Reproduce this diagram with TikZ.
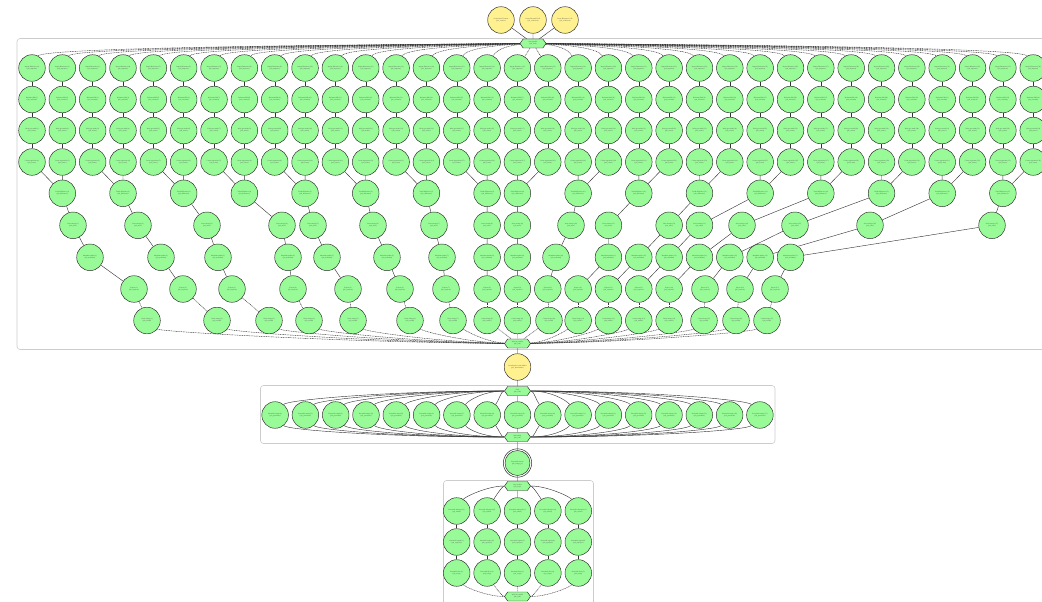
\documentclass[tikz,border=0pt]{standalone}
\usepackage{fontspec}
\setmainfont{Liberation Serif}
\usetikzlibrary{shapes.symbols}
\definecolor{pgreen}{HTML}{98FB98}
\definecolor{pyel}{HTML}{FFF18F}
\definecolor{clus}{HTML}{CCCCCC}
\definecolor{edgec}{HTML}{333333}
\pgfdeclarelayer{clusterlayer}
\pgfdeclarelayer{edgelayer}
\pgfsetlayers{clusterlayer,edgelayer,main}
\tikzset{
  job/.style={circle,draw=black!85,fill=pgreen,line width=0.45pt,minimum size=26.6pt,inner sep=0pt,
    align=center,text=black!70,font=\fontsize{1.7}{2.1}\selectfont},
  yjob/.style={job,fill=pyel},
  mjob/.style={job,minimum size=25pt},
  hexjob/.style={signal,signal to=west and east,signal pointer angle=110,draw=black!85,fill=pgreen,
    line width=0.45pt,minimum width=26pt,minimum height=9pt,inner sep=0.3pt,align=center,
    text=black!70,font=\fontsize{1.7}{2.1}\selectfont},
  cluster/.style={draw=clus,line width=0.6pt,rounded corners=3pt},
  link/.style={draw=edgec,line width=0.42pt},
  dlink/.style={link,line width=0.45pt,dash pattern=on 1pt off 0.7pt},
}
\begin{document}
\begin{tikzpicture}[x=1pt,y=1pt]
\useasboundingbox (0,0) rectangle (1042,-602);
\begin{pgfonlayer}{clusterlayer}
\begin{scope}
\clip (0,0) rectangle (1042,-602);
\draw[cluster] (17,-38.5) rectangle (1070,-349.5);
\draw[cluster] (260.5,-385.5) rectangle (775,-443.5);
\draw[cluster] (443.5,-480.5) rectangle (593.5,-640);
\end{scope}
\end{pgfonlayer}

% ---------- top ----------
\node[yjob] (y1) at (501,-20) {Create World Context\\(job\_context)};
\node[yjob] (y2) at (533,-20) {Create Bioworld Coll.\\(job\_collection)};
\node[yjob] (y3) at (565,-20) {Create Biosource Coll.\\(job\_collection)};
\node[hexjob] (s1) at (533,-43.5) {Start parallel\\(job\_fork)};
\node[hexjob] (j1) at (517.5,-343.5) {Wait for parallel\\(job\_join)};
\begin{pgfonlayer}{edgelayer}
\draw[link] (y1) -- (s1) (y2) -- (s1) (y3) -- (s1);
\end{pgfonlayer}

% ---------- rows 1-4 ----------
\foreach \i in {0,...,33}{
  \pgfmathsetmacro\cx{32+30.34*\i}
  \pgfmathtruncatemacro\n{\i+1}
  \node[job] (a\i) at (\cx,-68) {Import Biosource (\n)\\(job\_importer)};
  \node[job] (b\i) at (\cx,-99.5) {Reformat EM (\n)\\(job\_reformat)};
  \node[job] (c\i) at (\cx,-130.5) {Write geo mask (\n)\\(job\_writer)};
  \node[job] (d\i) at (\cx,-162) {Create regression (\n)\\(job\_Lasso)};
  \pgfmathsetmacro\dx{\cx-533}
  \pgfmathsetmacro\adx{abs(\dx)}
  \pgfmathsetmacro\sg{\dx<0 ? -1 : 1}
  \begin{pgfonlayer}{edgelayer}
  \draw[link] (a\i) -- (b\i) (b\i) -- (c\i) (c\i) -- (d\i);
  \ifdim\adx pt<40pt
    \draw[dlink] (s1) -- (a\i);
  \else
    \pgfmathsetmacro\cax{533+0.45*\dx}
    \pgfmathsetmacro\cbx{\cx-10*\sg}
    \draw[dlink] (s1) .. controls (\cax,-45) and (\cbx,-48) .. (a\i);
  \fi
  \end{pgfonlayer}
}

% ---------- rows 5-9 (chains) ----------
\foreach \k/\xf/\xg/\xh/\xr in {
  1/73/90/134/147, 2/138/161/183/217, 3/207/218/232/269, 4/282/288/293/309,
  5/313/327/348/353, 6/373/387/400/410, 7/434/442/446/453,
  8/487.1/487.1/487.1/487.1, 9/517.44/517.44/517.44/517.44,
  10/571/556/547.8/549, 11/608.46/608.46/578.12/578.12,
  12/669.14/638.8/608.46/608.46, 13/699.48/669.14/638.8/638.8,
  14/742/699.48/669.14/669.14, 15/795/729.82/705/704,
  16/870/760.16/740/736, 17/992/790.5/775/767}{
  \pgfmathtruncatemacro\pa{2*\k-2}
  \pgfmathtruncatemacro\pb{2*\k-1}
  \pgfmathsetmacro\xe{\k<9 ? 32+30.34*\pb : 32+30.34*\pa}
  \node[job] (e\k) at (\xe,-193.3) {Trend difference (\k)\\(job\_difference)};
  \node[job] (f\k) at (\xf,-225.3) {Store storage (\k)\\(job\_store)};
  \node[job] (g\k) at (\xg,-257.3) {Metadata update (\k)\\(job\_metadata)};
  \node[job] (h\k) at (\xh,-289) {Export (\k)\\(job\_exporter)};
  \node[job] (r\k) at (\xr,-320.5) {Create image (\k)\\(job\_render)};
  \pgfmathsetmacro\dx{\xr-517.5}
  \pgfmathsetmacro\adx{abs(\dx)}
  \pgfmathsetmacro\sg{\dx<0 ? -1 : 1}
  \begin{pgfonlayer}{edgelayer}
  \draw[link] (d\pa) -- (e\k) (d\pb) -- (e\k) (e\k) -- (f\k) (f\k) -- (g\k) (g\k) -- (h\k);
  \draw[dlink] (h\k) -- (r\k);
  \ifdim\adx pt<35pt
    \draw[dlink] (r\k) -- (j1);
  \else
    \pgfmathsetmacro\cax{\xr-14*\sg}
    \pgfmathsetmacro\cbx{517.5+0.45*\dx}
    \draw[dlink] (r\k) .. controls (\cax,-332) and (\cbx,-342.5) .. (j1);
  \fi
  \end{pgfonlayer}
}

% ---------- middle ----------
\node[yjob] (y4) at (517.5,-367) {Downloader Create Media\\(job\_downloader)};
\node[hexjob] (h2) at (517.5,-391) {Fork\\(job\_fork)};
\node[hexjob] (h3) at (517.5,-437) {Wait (fork)\\(job\_join)};
\node[mjob] (m1) at (517.5,-463) {Percentile mosaic\\(job\_merge\_pc)};
\draw[black!85,line width=0.5pt] (m1.center) circle (14.2pt);
\node[hexjob] (h4) at (517.5,-486) {Loop worker\\(job\_loop)};
\begin{pgfonlayer}{edgelayer}
\draw[link] (j1) -- (y4) (y4) -- (h2) (h3) -- (m1) (m1) -- (h4);
\end{pgfonlayer}

\foreach \i in {0,...,16}{
  \pgfmathsetmacro\px{517.5+30.3*(\i-8)}
  \pgfmathtruncatemacro\n{\i+1}
  \node[job] (p\i) at (\px,-415) {Percentile output (\n)\\(job\_percentile)};
  \pgfmathsetmacro\dx{\px-517.5}
  \pgfmathsetmacro\adx{abs(\dx)}
  \pgfmathsetmacro\sg{\dx<0 ? -1 : 1}
  \begin{pgfonlayer}{edgelayer}
  \ifdim\adx pt<5pt
    \draw[link] (h2) -- (p\i) (p\i) -- (h3);
  \else
    \pgfmathsetmacro\cax{517.5+0.55*\dx}
    \pgfmathsetmacro\cbx{\px-12*\sg}
    \draw[link] (h2) .. controls (\cax,-391) and (\cbx,-400) .. (p\i);
    \draw[link] (p\i) .. controls (\cbx,-430) and (\cax,-437) .. (h3);
  \fi
  \end{pgfonlayer}
}

% ---------- bottom cluster ----------
\node[hexjob] (j2) at (517.5,-596.5) {Wait for parallel\\(job\_join)};
\foreach \i in {0,...,4}{
  \pgfmathsetmacro\qx{517.5+30.4*(\i-2)}
  \pgfmathtruncatemacro\n{\i+1}
  \node[job] (qa\i) at (\qx,-511) {Percentile subregion (\n)\\(job\_subset)};
  \node[job] (qb\i) at (\qx,-542) {Percentile region (\n)\\(job\_reproject)};
  \node[job] (qc\i) at (\qx,-573) {Percentile flow (\n)\\(job\_script)};
  \pgfmathsetmacro\dx{\qx-517.5}
  \pgfmathsetmacro\adx{abs(\dx)}
  \pgfmathsetmacro\sg{\dx<0 ? -1 : 1}
  \begin{pgfonlayer}{edgelayer}
  \draw[link] (qa\i) -- (qb\i) (qb\i) -- (qc\i);
  \ifdim\adx pt<5pt
    \draw[link] (h4) -- (qa\i);
    \draw[dlink] (qc\i) -- (j2);
  \else
    \pgfmathsetmacro\cax{517.5+0.5*\dx}
    \pgfmathsetmacro\cbx{\qx-8*\sg}
    \draw[link] (h4) .. controls (\cax,-486) and (\cbx,-497) .. (qa\i);
    \draw[dlink] (qc\i) .. controls (\cbx,-587) and (\cax,-596.5) .. (j2);
  \fi
  \end{pgfonlayer}
}
\end{tikzpicture}
\end{document}
